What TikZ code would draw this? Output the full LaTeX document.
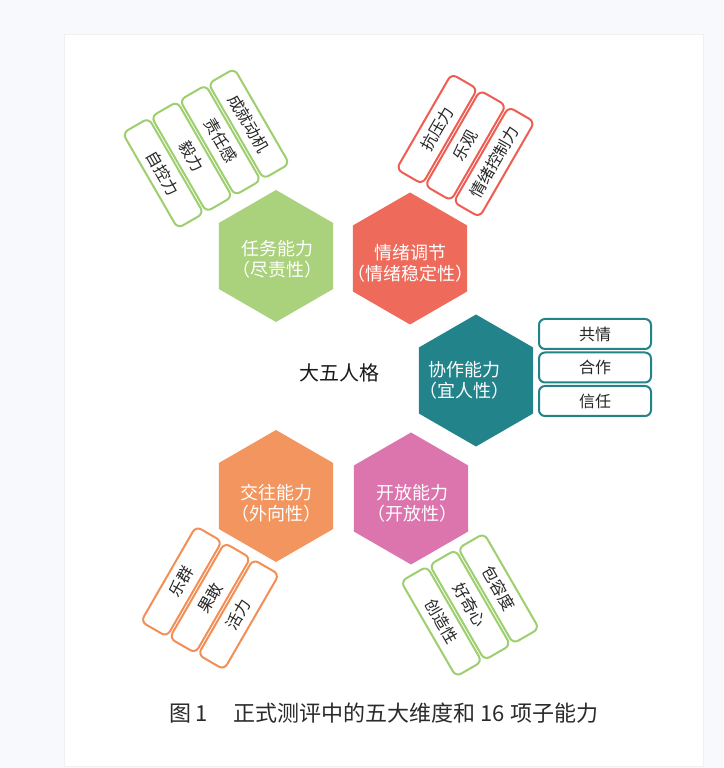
\documentclass[tikz,border=0pt]{standalone}
\usepackage{fontspec}
\setmainfont{Noto Sans CJK SC}
\usetikzlibrary{shapes.geometric}

\begin{document}
\begin{tikzpicture}[x=1pt, y=1pt,
    hexa/.style={regular polygon, regular polygon sides=6, minimum size=132pt,
                 shape border rotate=30, inner sep=0pt, draw=none},
    hextext/.style={text=white, font=\fontsize{18}{21}\selectfont, align=center},
    subbox/.style={line width=2pt, rounded corners=6pt, fill=white,
                   minimum width=110pt, minimum height=30pt, inner sep=0pt,
                   text=black!85, font=\fontsize{16}{18}\selectfont, transform shape},
]

% Colors
\definecolor{pagebg}{HTML}{F8F9FC}
\definecolor{gnH}{HTML}{AAD17C}
\definecolor{gnL}{HTML}{9DCF6E}
\definecolor{rdH}{HTML}{EE6B5C}
\definecolor{rdL}{HTML}{EF5D52}
\definecolor{tlH}{HTML}{22838A}
\definecolor{orH}{HTML}{F3955F}
\definecolor{orL}{HTML}{F38E55}
\definecolor{pkH}{HTML}{DC75AE}
\definecolor{capt}{HTML}{2A2A2A}

% === Page and card ===
\fill[pagebg] (0,0) rectangle (723,768);
\fill[white, draw=black!6] (64,2) rectangle (703,734);

% === Hexagons ===
\node[hexa, fill=gnH] (hexT) at (276,512)   {};
\node[hexa, fill=rdH] (hexE) at (410,509.5) {};
\node[hexa, fill=tlH] (hexC) at (476,387.5) {};
\node[hexa, fill=orH] (hexS) at (276,272)   {};
\node[hexa, fill=pkH] (hexO) at (411,269.5) {};

\node[hextext] (txtT) at (277,509) {任务能力\\（尽责性）};
\node[hextext] (txtE) at (410,505) {情绪调节\\（情绪稳定性）};
\node[hextext] (txtC) at (464,388) {协作能力\\（宜人性）};
\node[hextext] (txtS) at (276,265) {交往能力\\（外向性）};
\node[hextext] (txtO) at (412,265) {开放能力\\（开放性）};

\node[font=\fontsize{20}{24}\selectfont, text=black!90] (big5) at (339,395) {大五人格};

% === Sub abilities: task ===
\begin{scope}[shift={(206,619.5)}, rotate=-60]
  \node[subbox, draw=gnL] (t1) at (0, 49.5) {成就动机};
  \node[subbox, draw=gnL] (t2) at (0, 16.5) {责任感};
  \node[subbox, draw=gnL] (t3) at (0,-16.5) {毅力};
  \node[subbox, draw=gnL] (t4) at (0,-49.5) {自控力};
\end{scope}

% === Sub abilities: emotion ===
\begin{scope}[shift={(465.5,622.5)}, rotate=60]
  \node[subbox, draw=rdL] (e1) at (0, 33) {抗压力};
  \node[subbox, draw=rdL] (e2) at (0,  0) {乐观};
  \node[subbox, draw=rdL] (e3) at (0,-33) {情绪控制力};
\end{scope}

% === Sub abilities: cooperation ===
\begin{scope}[shift={(595,400.5)}]
  \node[subbox, draw=tlH, minimum width=112pt] (c1) at (0, 33.5) {共情};
  \node[subbox, draw=tlH, minimum width=112pt] (c2) at (0,  0)   {合作};
  \node[subbox, draw=tlH, minimum width=112pt] (c3) at (0,-33.5) {信任};
\end{scope}

% === Sub abilities: social ===
\begin{scope}[shift={(210,170)}, rotate=60]
  \node[subbox, draw=orL] (s1) at (0, 33) {乐群};
  \node[subbox, draw=orL] (s2) at (0,  0) {果敢};
  \node[subbox, draw=orL] (s3) at (0,-33) {活力};
\end{scope}

% === Sub abilities: openness ===
\begin{scope}[shift={(470,163)}, rotate=-60]
  \node[subbox, draw=gnL] (o1) at (0, 33) {包容度};
  \node[subbox, draw=gnL] (o2) at (0,  0) {好奇心};
  \node[subbox, draw=gnL] (o3) at (0,-33) {创造性};
\end{scope}

% === Caption ===
\node[font=\fontsize{22}{26}\selectfont, text=capt] (caption) at (384,55)
  {图\,1\hspace{26pt}正式测评中的五大维度和 16 项子能力};
\end{tikzpicture}
\end{document}
